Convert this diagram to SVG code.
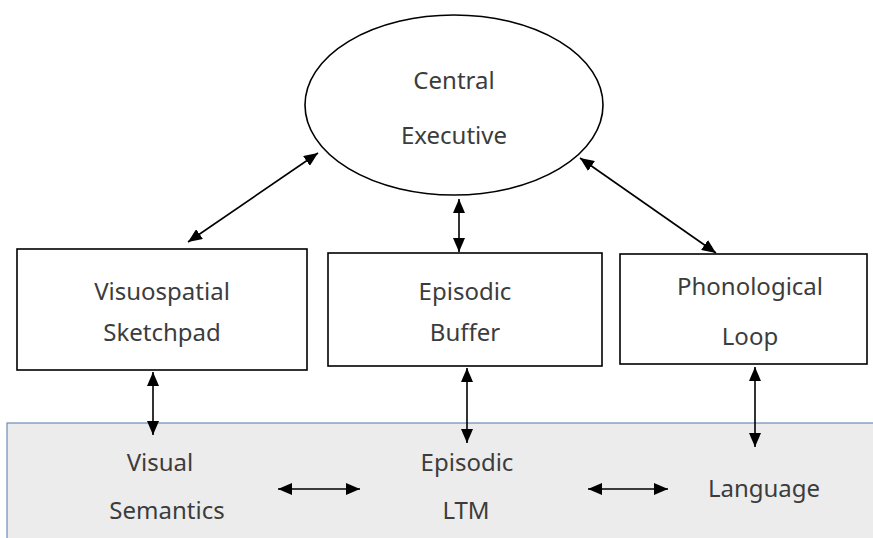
<svg xmlns="http://www.w3.org/2000/svg" width="873" height="538" viewBox="0 0 873 538">
  <defs>
    <marker id="ah" viewBox="0 0 14 12" refX="14" refY="6" markerWidth="14" markerHeight="12" markerUnits="userSpaceOnUse" orient="auto-start-reverse">
      <path d="M0,0 L14,6 L0,12 Z" fill="#000"/>
    </marker>
    <style>
      .lbl { font-family: "Noto Sans", "DejaVu Sans", sans-serif; font-size: 24px; fill: #3c3c3c; text-anchor: middle; }
      .box { fill: #fff; stroke: #000; stroke-width: 1.6; }
      .con { stroke: #000; stroke-width: 1.6; fill: none; marker-start: url(#ah); marker-end: url(#ah); }
    </style>
  </defs>
  <rect width="873" height="538" fill="#fff"/>

  <!-- long-term memory band -->
  <g id="ltm-band">
    <rect x="7" y="423" width="870" height="120" fill="#ececec" stroke="#6d8fb6" stroke-width="1.2"/>
  </g>

  <g id="central-executive">
    <ellipse cx="454" cy="105" rx="149" ry="90" fill="#fff" stroke="#000" stroke-width="1.6"/>
    <text class="lbl" x="454" y="89">Central</text>
    <text class="lbl" x="454" y="144">Executive</text>
  </g>

  <g id="visuospatial-sketchpad">
    <rect class="box" x="17" y="249" width="290" height="121"/>
    <text class="lbl" x="162" y="300">Visuospatial</text>
    <text class="lbl" x="162" y="341">Sketchpad</text>
  </g>

  <g id="episodic-buffer">
    <rect class="box" x="328" y="253" width="274" height="113"/>
    <text class="lbl" x="465" y="300">Episodic</text>
    <text class="lbl" x="465" y="341">Buffer</text>
  </g>

  <g id="phonological-loop">
    <rect class="box" x="620" y="254" width="247" height="110"/>
    <text class="lbl" x="750" y="295">Phonological</text>
    <text class="lbl" x="750" y="345">Loop</text>
  </g>

  <g id="visual-semantics">
    <text class="lbl" x="160" y="471">Visual</text>
    <text class="lbl" x="167" y="519">Semantics</text>
  </g>

  <g id="episodic-ltm">
    <text class="lbl" x="467" y="471">Episodic</text>
    <text class="lbl" x="466" y="519">LTM</text>
  </g>

  <g id="language">
    <text class="lbl" x="764" y="497">Language</text>
  </g>

  <g id="connectors">
    <line class="con" x1="318" y1="153" x2="188" y2="242"/>
    <line class="con" x1="459" y1="199" x2="459" y2="252"/>
    <line class="con" x1="580" y1="158" x2="716" y2="253"/>
    <line class="con" x1="153" y1="372" x2="153" y2="435"/>
    <line class="con" x1="467" y1="368" x2="467" y2="443"/>
    <line class="con" x1="755" y1="367" x2="755" y2="447"/>
    <line class="con" x1="278" y1="489" x2="360" y2="489"/>
    <line class="con" x1="588" y1="489" x2="668" y2="489"/>
  </g>
</svg>
